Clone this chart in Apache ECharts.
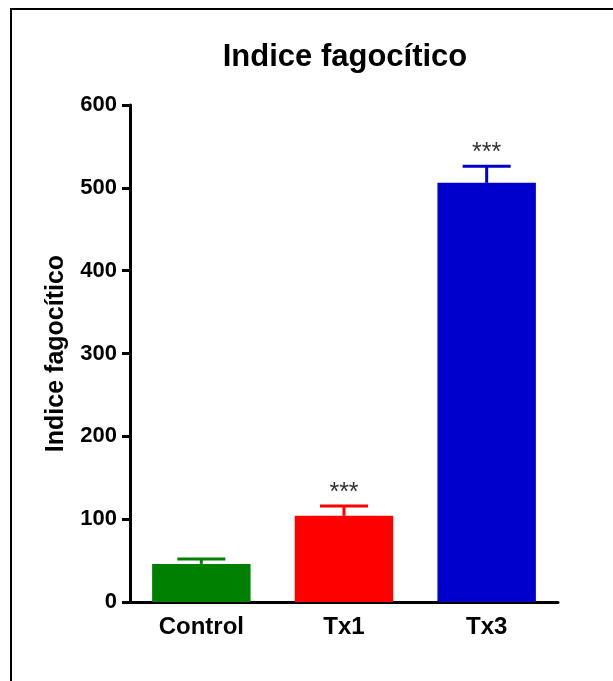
<!DOCTYPE html>
<html>
<head>
<meta charset="utf-8">
<script src="https://cdn.jsdelivr.net/npm/echarts@6/dist/echarts.min.js"></script>
<style>
  html, body { margin: 0; padding: 0; background: #fff; }
  #chart { width: 613px; height: 681px; }
</style>
</head>
<body>
<div id="chart"></div>
<script>
// Groups and measured phagocytic index (mean ± SEM)
const categories = ['Control', 'Tx1', 'Tx3'];
const means = [46, 104, 506];
const sems = [6, 12, 20];
const significance = ['', '***', '***'];
const barColors = ['#008000', '#FF0000', '#0000CC'];
const yTicks = { min: 0, max: 600, interval: 100 };

const FONT = '"Liberation Sans", Arial, sans-serif';

const chart = echarts.init(document.getElementById('chart'), null, { renderer: 'canvas' });

const errorData = categories.map((c, i) => [i, means[i], sems[i]]);

chart.setOption({
  animation: false,
  backgroundColor: '#ffffff',
  title: {
    text: 'Indice fagocítico',
    left: 340,
    top: 37,
    textAlign: 'center',
    textStyle: { fontFamily: FONT, fontSize: 31, fontWeight: 'bold', color: '#000' }
  },
  graphic: [
    { type: 'line', shape: { x1: 10, y1: 9, x2: 613, y2: 9 }, style: { stroke: '#000', lineWidth: 2 } },
    { type: 'line', shape: { x1: 11, y1: 9, x2: 11, y2: 681 }, style: { stroke: '#000', lineWidth: 2 } }
  ],
  grid: { left: 130, right: 55, top: 105, bottom: 79, containLabel: false },
  xAxis: {
    type: 'category',
    data: categories,
    axisLine: { lineStyle: { color: '#000', width: 3 } },
    axisTick: { alignWithLabel: true, length: 8, lineStyle: { color: '#000', width: 3 } },
    axisLabel: { fontFamily: FONT, fontSize: 24, fontWeight: 'bold', color: '#000', margin: 13 }
  },
  yAxis: {
    type: 'value',
    min: yTicks.min,
    max: yTicks.max,
    interval: yTicks.interval,
    name: 'Indice fagocítico',
    nameLocation: 'middle',
    nameGap: 61,
    nameTextStyle: { fontFamily: FONT, fontSize: 25, fontWeight: 'bold', color: '#000' },
    axisLine: { show: true, lineStyle: { color: '#000', width: 3 } },
    axisTick: { show: true, length: 8, lineStyle: { color: '#000', width: 3 } },
    axisLabel: { fontFamily: FONT, fontSize: 22, fontWeight: 'bold', color: '#000', margin: 13 },
    splitLine: { show: false }
  },
  series: [
    {
      type: 'bar',
      data: means.map((v, i) => ({ value: v, itemStyle: { color: barColors[i] } })),
      barWidth: '69%',
      z: 2
    },
    {
      type: 'custom',
      data: errorData,
      z: 1,
      renderItem: function (params, api) {
        const i = api.value(0);
        const mean = api.value(1);
        const sem = api.value(2);
        const label = significance[i];
        const base = api.coord([i, mean]);
        const top = api.coord([i, mean + sem]);
        const capHalf = 24;
        const color = barColors[i];
        const children = [
          { type: 'line', shape: { x1: base[0], y1: base[1], x2: top[0], y2: top[1] },
            style: { stroke: color, lineWidth: 3 } },
          { type: 'line', shape: { x1: top[0] - capHalf, y1: top[1], x2: top[0] + capHalf, y2: top[1] },
            style: { stroke: color, lineWidth: 3 } }
        ];
        if (label) {
          children.push({
            type: 'text',
            style: {
              x: top[0], y: top[1] - 13,
              text: label,
              textAlign: 'center', textVerticalAlign: 'middle',
              fontFamily: FONT, fontSize: 25, fill: '#333'
            }
          });
        }
        return { type: 'group', children: children };
      }
    }
  ]
});
</script>
</body>
</html>
